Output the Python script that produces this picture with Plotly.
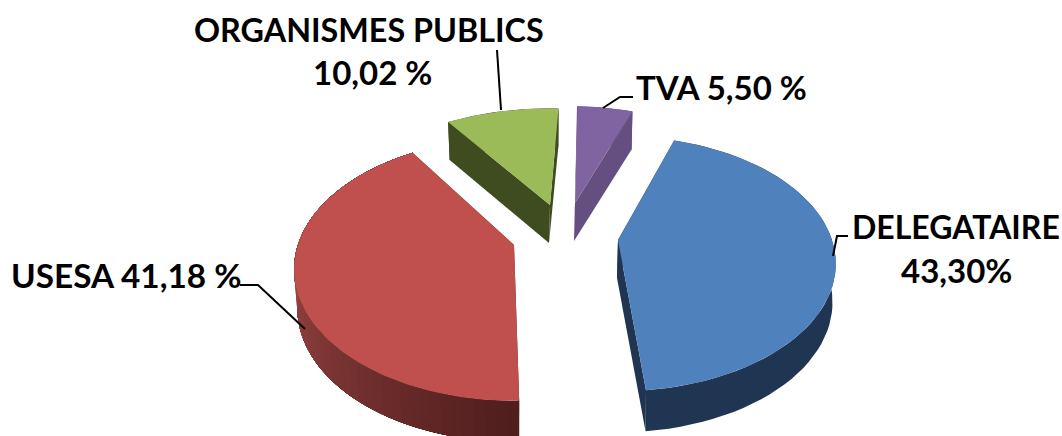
import numpy as np
import plotly.graph_objects as go

names = ["DELEGATAIRE", "USESA", "ORGANISMES PUBLICS", "TVA"]
values = [43.30, 41.18, 10.02, 5.50]
top_colors = ["#4f81bd", "#c0504d", "#9bbb59", "#8064a2"]
face_colors = ["#1f3552", "#4f1e1d", "#3f4c20", "#644f80"]
wall_far = ["#1f3552", "#a04846", "#3f4c20", "#644f80"]
wall_near = ["#1f3552", "#4f1e1d", "#3f4c20", "#644f80"]
apex_x = [618, 514, 550, 575]
apex_y = [240, 245, 205, 203]
# the explosion shifts each slice in perspective, so each gets its own view correction
view_turn = [-2.0, 3.0, 2.5, 0.5]
view_rx = [1.0, 1.01, 1.0, 0.9]
view_ry = [1.01, 1.04, 0.94, 0.94]

FIRST_ANGLE = 20.0
R, B, K, DEPTH = 214.0, 122.0, 0.186, 38.0


def proj(phi_deg, ax, ay, rx=1.0, ry=1.0, low=False):
    phi = np.radians(phi_deg)
    u, v = np.sin(phi), np.cos(phi)
    s = 1 / (1 + K * v)
    scale = 0.985 if low else 1.0
    x = ax + R * rx * scale * u * s
    y = ay - B * ry * v * s + (DEPTH + 3 * np.maximum(-v, 0) if low else 0)
    return x, y


def mix(c1, c2, t):
    a = [int(c1[i:i + 2], 16) for i in (1, 3, 5)]
    b = [int(c2[i:i + 2], 16) for i in (1, 3, 5)]
    return "rgb(%d,%d,%d)" % tuple(round(p + (q - p) * t) for p, q in zip(a, b))


fig = go.Figure()


def poly(xs, ys, color):
    fig.add_trace(go.Scatter(
        x=list(xs), y=list(ys), mode="lines", fill="toself", fillcolor=color,
        line=dict(color=color, width=0), hoverinfo="skip", showlegend=False))


cum = FIRST_ANGLE
for i, val in enumerate(values):
    start = cum + view_turn[i]
    end = start + val * 3.6
    cum += val * 3.6
    ax, ay, rx, ry = apex_x[i], apex_y[i], view_rx[i], view_ry[i]
    arc = np.linspace(start, end, 120)
    # cut faces
    for a in (start, end):
        x0, y0 = proj(a, ax, ay, rx, ry)
        x1, y1 = proj(a, ax, ay, rx, ry, True)
        poly([ax, x0, x1, ax - 1], [ay, y0, y1, ay + DEPTH], face_colors[i])
    # outer wall; later strips paint over earlier ones to carry the gradient
    n = 60 if wall_far[i] != wall_near[i] else 1
    edges = np.linspace(start, end, n + 1)
    for j in range(n):
        seg = np.linspace(edges[j], end, 60)
        tx, ty = proj(seg, ax, ay, rx, ry)
        lx, ly = proj(seg[::-1], ax, ay, rx, ry, True)
        t = max(0.0, min(1.0, (270 - (edges[j] + edges[j + 1]) / 2) / 90))
        poly(list(tx) + list(lx), list(ty) + list(ly), mix(wall_far[i], wall_near[i], t))
    # top surface
    tx, ty = proj(arc, ax, ay, rx, ry)
    poly([ax] + list(tx), [ay] + list(ty), top_colors[i])

leader_x = [[497, 501], [603, 620, 633], [833, 837, 848], [305, 258, 240]]
leader_y = [[50, 110], [108, 97, 97], [256, 236, 236], [329, 285, 285]]
for lx, ly in zip(leader_x, leader_y):
    fig.add_trace(go.Scatter(x=lx, y=ly, mode="lines", line=dict(color="black", width=2),
                             hoverinfo="skip", showlegend=False))

label_text = ["ORGANISMES PUBLICS", "10,02 %", "TVA 5,50 %", "DELEGATAIRE", "43,30%", "USESA 41,18 %"]
label_x = [369, 372, 721, 956, 956, 126]
label_y = [29, 72, 87, 226, 270, 275]
label_size = [32.3, 33, 33, 32, 33, 33.3]
for t, x, y, sz in zip(label_text, label_x, label_y, label_size):
    fig.add_annotation(x=x, y=y, text="<b>%s</b>" % t, showarrow=False, xanchor="center", yanchor="middle",
                       font=dict(family="Lato", size=sz, color="black"))

fig.update_layout(
    width=1062, height=436, margin=dict(l=0, r=0, t=0, b=0),
    paper_bgcolor="white", plot_bgcolor="white", showlegend=False,
    xaxis=dict(range=[0, 1062], visible=False, fixedrange=True),
    yaxis=dict(range=[436, 0], visible=False, fixedrange=True),
)
fig.write_html("out.html", config={"displayModeBar": False},
               post_script="document.body.style.margin='0';document.body.style.overflow='hidden';")
